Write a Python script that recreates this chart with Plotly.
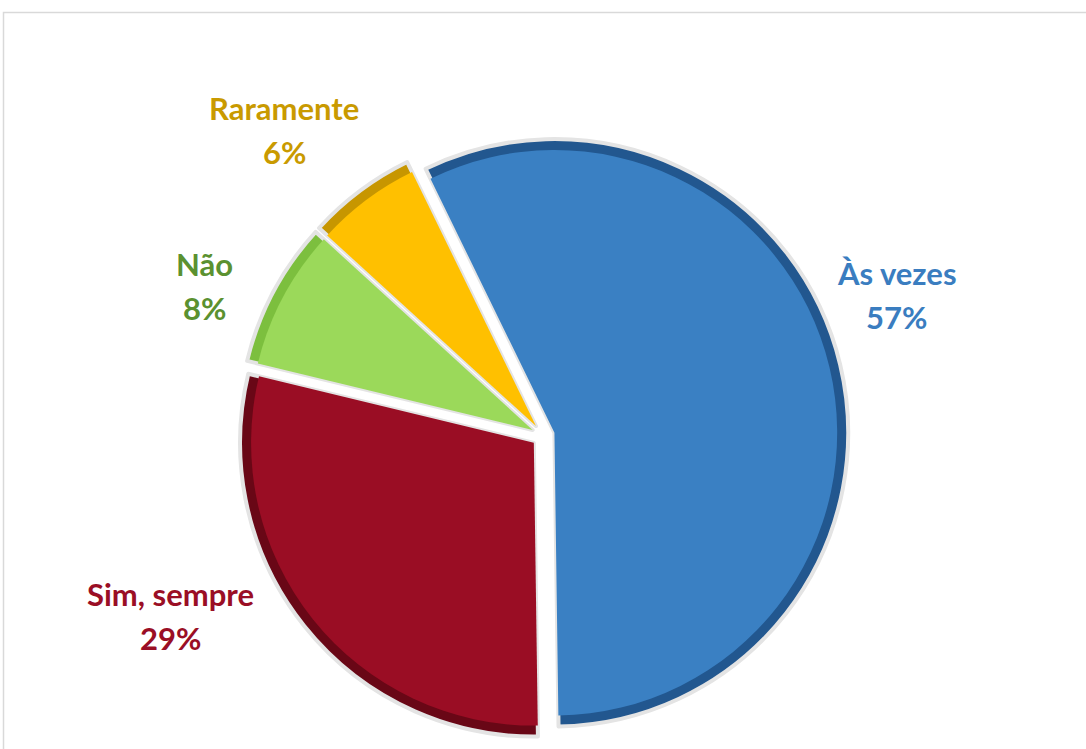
import plotly.graph_objects as go

# Survey answers and their shares (%)
categories = ["Às vezes", "Sim, sempre", "Não", "Raramente"]
shares = [57, 29, 8, 6]
slice_colors = ["#3A80C3", "#9A0D24", "#9BD95A", "#FFC000"]
rim_colors = ["#22578F", "#690716", "#7CBF3E", "#C79600"]
label_colors = ["#3A7DC0", "#9A0E25", "#5B9130", "#C99A00"]

W, H = 1086, 749
top_m, bot_m = 130, 8
plot_h = H - top_m - bot_m

PULL = 0.04
R = plot_h / (2 * (1 + PULL))      # pie radius in px
OFFSET = PULL * R                   # explode distance in px
RIM = 11                            # width of the shaded outer rim, px

fig = go.Figure()

# Outer pie (rim shade) with a light grey outline
fig.add_trace(go.Pie(
    labels=categories,
    values=shares,
    sort=False,
    direction="clockwise",
    rotation=-26,
    pull=[PULL] * len(shares),
    marker=dict(colors=rim_colors, line=dict(color="#E4E4E4", width=4)),
    textinfo="none",
    hoverinfo="label+percent",
    showlegend=False,
    domain=dict(x=[0, 1], y=[0, 1]),
))

# Inner face of each slice, same apex, slightly shorter radius
r2 = R - RIM
p2 = OFFSET / r2
h2 = 2 * r2 * (1 + p2)
half = h2 / (2 * plot_h)
fig.add_trace(go.Pie(
    labels=categories,
    values=shares,
    sort=False,
    direction="clockwise",
    rotation=-26,
    pull=[p2] * len(shares),
    marker=dict(colors=slice_colors, line=dict(width=0)),
    textinfo="none",
    hoverinfo="skip",
    showlegend=False,
    domain=dict(x=[0, 1], y=[0.5 - half, 0.5 + half]),
))


def px_to_paper(px, py):
    return px / W, (H - bot_m - py) / plot_h


# Data labels: category name with its share underneath
label_pos = [(897, 295), (170, 616), (204, 286), (284, 130)]
line_gap = 44
for cat, val, col, (px, py) in zip(categories, shares, label_colors, label_pos):
    for txt, yy in ((cat, py - line_gap / 2), (f"{val}%", py + line_gap / 2)):
        ax, ay = px_to_paper(px, yy)
        fig.add_annotation(
            x=ax, y=ay, xref="paper", yref="paper",
            xanchor="center", yanchor="middle",
            text=txt, showarrow=False,
            font=dict(family="Lato", size=31, color=col, weight="bold"),
        )

# Chart-area frame
fx0, fy1 = px_to_paper(3.5, 12.5)
fig.add_shape(
    type="rect", xref="paper", yref="paper",
    x0=fx0, x1=1.02, y0=-0.1, y1=fy1,
    line=dict(color="#D9D9D9", width=1.5),
    fillcolor="rgba(0,0,0,0)", layer="below",
)

fig.update_layout(
    width=W, height=H,
    margin=dict(l=0, r=0, t=top_m, b=bot_m),
    paper_bgcolor="white",
    plot_bgcolor="white",
)

fig.write_html("out.html")
